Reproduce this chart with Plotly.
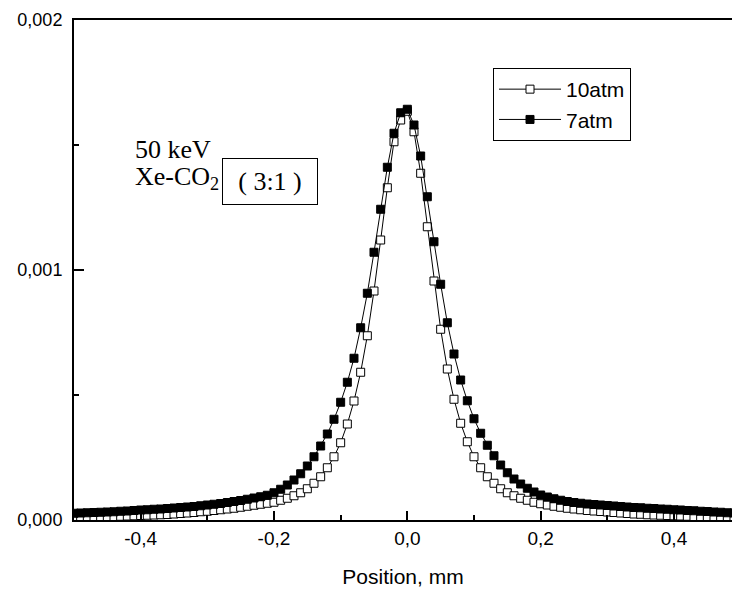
import plotly.graph_objects as go

# ---- data (values in units of 1e-6) ----
positions = [round(-0.5 + 0.01 * i, 2) for i in range(101)]

atm10_u = [8, 9, 10, 11, 12, 13, 14, 15, 16, 17,
           18, 19, 20, 21, 22, 24, 26, 28, 30, 33,
           35, 38, 41, 44, 47, 51, 55, 59, 63, 67,
           71, 79, 87, 97, 109, 125, 147, 173, 209, 253,
           309, 384, 476, 591, 737, 916, 1120, 1329, 1513, 1600,
           1635, 1553, 1387, 1173, 956, 763, 604, 483, 387, 313,
           253, 209, 173, 147, 125, 109, 97, 87, 79, 71,
           65, 60, 55, 51, 47, 44, 41, 38, 36, 34,
           32, 30, 28, 26, 24, 23, 21, 20, 19, 18,
           17, 16, 15, 14, 13, 12, 11, 10, 9, 9, 8]

atm7_u = [27, 28, 29, 30, 31, 32, 33, 35, 36, 38,
          40, 41, 43, 44, 46, 48, 50, 52, 54, 57,
          60, 63, 66, 70, 74, 78, 83, 88, 93, 99,
          109, 123, 140, 160, 185, 216, 253, 296, 344, 403,
          471, 551, 647, 769, 907, 1071, 1243, 1411, 1547, 1629,
          1643, 1580, 1456, 1293, 1113, 943, 789, 664, 560, 477,
          405, 347, 299, 257, 220, 189, 164, 144, 127, 112,
          100, 92, 85, 79, 74, 70, 67, 64, 62, 60,
          58, 56, 54, 52, 50, 49, 47, 46, 44, 43,
          41, 40, 38, 37, 35, 34, 32, 31, 29, 28, 27]

atm10 = [v * 1e-6 for v in atm10_u]
atm7 = [v * 1e-6 for v in atm7_u]

x_tickvals = [-0.4, -0.2, 0.0, 0.2, 0.4]
x_ticktext = ["-0,4", "-0,2", "0,0", "0,2", "0,4"]
x_minor = [-0.3, -0.1, 0.1, 0.3]
y_tickvals = [0.0, 0.001, 0.002]
y_ticktext = ["0,000", "0,001", "0,002"]
y_minor = [0.0005, 0.0015]

# ---- layout geometry (pixels) ----
W, H = 732, 593
L, R, T, B = 74, 0, 20, 73
PW, PH = W - L - R, H - T - B


def px(xp):
    return (xp - L) / PW


def py(yp):
    return (H - B - yp) / PH


fig = go.Figure()
fig.add_trace(go.Scatter(
    x=positions, y=atm10, mode="lines+markers", name="10atm",
    line=dict(color="black", width=1),
    marker=dict(symbol="square", size=8, color="white",
                line=dict(color="black", width=1)),
))
fig.add_trace(go.Scatter(
    x=positions, y=atm7, mode="lines+markers", name="7atm",
    line=dict(color="black", width=1),
    marker=dict(symbol="square", size=8, color="black",
                line=dict(color="black", width=1)),
))

fig.update_layout(
    width=W, height=H,
    margin=dict(l=L, r=R, t=T, b=B, pad=0, autoexpand=False),
    paper_bgcolor="white", plot_bgcolor="white",
    font=dict(family="Arial, Liberation Sans, sans-serif", color="black", size=18),
    legend=dict(
        x=px(493), y=py(68), xanchor="left", yanchor="top",
        bordercolor="black", borderwidth=1, bgcolor="white",
        font=dict(size=21, family="Arial, Liberation Sans, sans-serif"),
        itemwidth=62, tracegroupgap=0,
    ),
    xaxis=dict(
        range=[-0.5, -0.5 + PW / (133.33 / 0.2)],
        automargin=False,
        tickvals=x_tickvals, ticktext=x_ticktext,
        ticks="inside", ticklen=9, tickwidth=2, tickcolor="black",
        minor=dict(tickvals=x_minor, ticks="inside", ticklen=5,
                   tickwidth=1.5, tickcolor="black"),
        showline=True, linecolor="black", linewidth=2, mirror=True,
        showgrid=False, zeroline=False,
        tickfont=dict(size=19),
        title=dict(text="Position, mm", font=dict(size=21), standoff=22),
    ),
    yaxis=dict(
        range=[0, 0.002],
        automargin=False,
        tickvals=y_tickvals, ticktext=y_ticktext,
        ticks="inside", ticklen=10, tickwidth=2, tickcolor="black",
        minor=dict(tickvals=y_minor, ticks="inside", ticklen=5,
                   tickwidth=1.5, tickcolor="black"),
        showline=True, linecolor="black", linewidth=2, mirror=False,
        showgrid=False, zeroline=False,
        tickfont=dict(size=18),
        ticklabelstandoff=6,
    ),
    showlegend=True,
)

serif = "Liberation Serif, Times New Roman, serif"
fig.add_annotation(xref="paper", yref="paper", x=px(133), y=py(149),
                   xanchor="left", yanchor="middle", showarrow=False,
                   text="50 keV", font=dict(family=serif, size=26))
fig.add_annotation(xref="paper", yref="paper", x=px(133), y=py(178),
                   xanchor="left", yanchor="middle", showarrow=False,
                   text="Xe-CO<sub>2</sub>", font=dict(family=serif, size=26))
fig.add_annotation(xref="paper", yref="paper", x=px(270), y=py(181.5),
                   xanchor="center", yanchor="middle", showarrow=False,
                   text="( 3:1 )", font=dict(family=serif, size=26),
                   width=94, height=45, borderpad=0, align="center",
                   bordercolor="black", borderwidth=1)

fig.write_html(
    "out.html",
    config={"displayModeBar": False},
    post_script="document.body.style.margin='0';document.body.style.overflow='hidden';",
)
